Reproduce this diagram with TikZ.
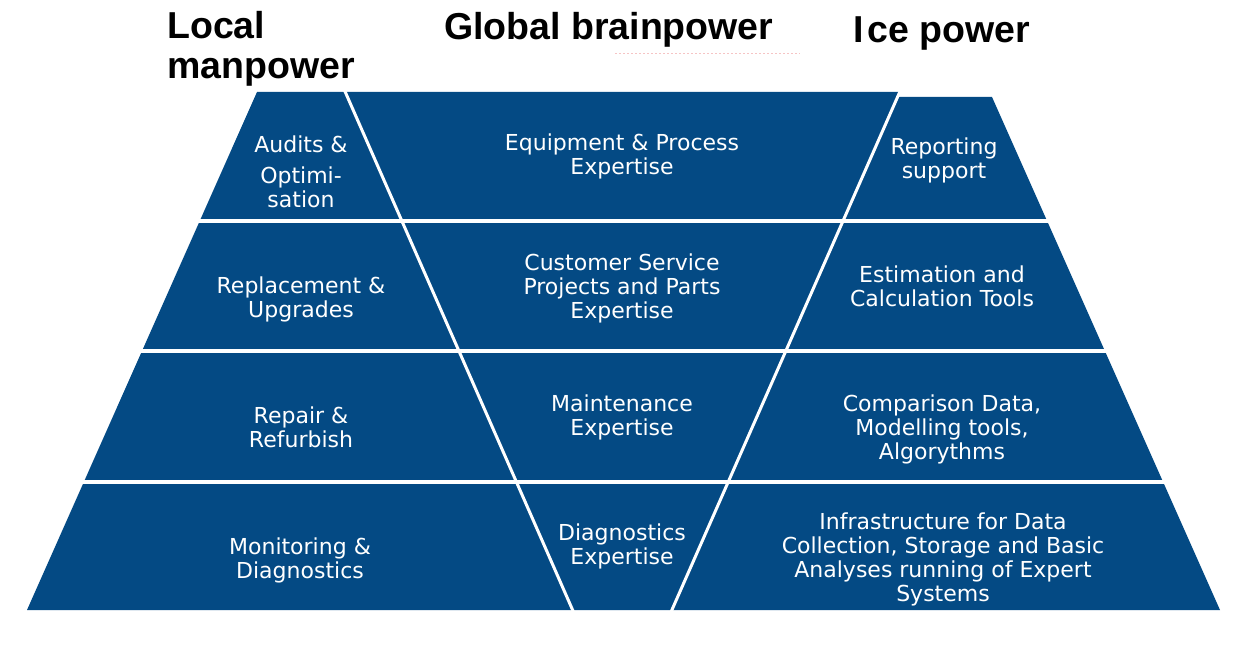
\documentclass[tikz,border=0pt]{standalone}
\usepackage{fontspec}
\setmainfont{DejaVu Sans}
\newfontfamily\headfont{Liberation Sans}
\definecolor{pyrblue}{RGB}{4,74,132}
\definecolor{faintpink}{RGB}{246,196,196}
\begin{document}
% every text node is placed by the baseline of its last line
\begin{tikzpicture}[x=1pt,y=-1pt,
  cell/.style={text=white, align=center, anchor=base, inner sep=0pt,
    font=\fontsize{22}{24}\selectfont},
  head/.style={anchor=base west, align=left, inner sep=0pt,
    font=\headfont\bfseries\fontsize{37.5}{40}\selectfont},
  gap/.style={white, line width=3.5pt}]
\useasboundingbox (0,0) rectangle (1247,650);

% outline of the three columns
\coordinate (tl) at (257,92);
\coordinate (tm) at (900,92);
\coordinate (tn) at (897.8,97);
\coordinate (tr) at (992,97);
\coordinate (br) at (1220,610);
\coordinate (bl) at (27,610);
\fill[pyrblue] (tl) -- (tm) -- (tn) -- (tr) -- (br) -- (bl) -- cycle;

% diagonal separators of the middle column
\coordinate (s1a) at (343.5,88);
\coordinate (s1b) at (573.5,612);
\coordinate (s2a) at (901.5,88);
\coordinate (s2b) at (671,612);
\draw[gap, line width=3pt] (s1a) -- (s1b);
\draw[gap, line width=3pt] (s2a) -- (s2b);

% horizontal row separators
\foreach \y [count=\i] in {221,351,482} {
  \coordinate (h\i a) at (0,\y);
  \coordinate (h\i b) at (1247,\y);
  \draw[gap] (h\i a) -- (h\i b);
}

% column headings
\node[head] (hlocal) at (167,79) {Local\\manpower};
\node[head] (hglobal) at (444,40) {Global brainpower};
\node[head] (hice) at (853,43) {I\kern4pt ce power};
\coordinate (da) at (615,53);
\coordinate (db) at (800,53);
\draw[faintpink, line width=0.8pt, dash pattern=on 1.5pt off 2.5pt] (da) -- (db);

% row 1
\node[cell] (audit) at (301,207) {Audits \&\\[7pt]Optimi-\\sation};
\node[cell] (equip) at (622,174) {Equipment \& Process\\Expertise};
\node[cell] (report) at (944,178) {Reporting\\support};
% row 2
\node[cell] (replace) at (301,317) {Replacement \&\\Upgrades};
\node[cell] (custom) at (622,318) {Customer Service\\Projects and Parts\\Expertise};
\node[cell] (estim) at (942,306) {Estimation and\\Calculation Tools};
% row 3
\node[cell] (repair) at (301,447) {Repair \&\\Refurbish};
\node[cell] (maint) at (622,435) {Maintenance\\Expertise};
\node[cell] (compar) at (942,459) {Comparison Data,\\Modelling tools,\\Algorythms};
% row 4
\node[cell] (monit) at (300,578) {Monitoring \&\\Diagnostics};
\node[cell] (diagn) at (622,564) {Diagnostics\\Expertise};
\node[cell] (infra) at (943,601) {Infrastructure for Data\\Collection, Storage and Basic\\Analyses running of Expert\\Systems};
\end{tikzpicture}
\end{document}
